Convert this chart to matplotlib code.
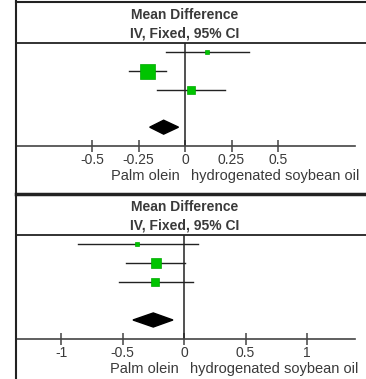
import matplotlib
matplotlib.use("Agg")
import matplotlib.pyplot as plt
from matplotlib.lines import Line2D
import numpy as np

plt.rcParams["font.family"] = ["Liberation Sans", "DejaVu Sans"]

W, H = 366, 379
DPI = 100

# top panel
top_est = [0.12, -0.205, 0.03]
top_lo = [-0.10, -0.30, -0.15]
top_hi = [0.345, -0.10, 0.215]
top_weight = [8, 75, 17]
top_pooled = (-0.19, -0.115, -0.035)
top_ticks = [-0.5, -0.25, 0, 0.25, 0.5]
top_tick_labels = ["-0.5", "-0.25", "0", "0.25", "0.5"]

# bottom panel
bot_est = [-0.38, -0.23, -0.235]
bot_lo = [-0.86, -0.47, -0.53]
bot_hi = [0.11, 0.01, 0.07]
bot_weight = [10, 55, 35]
bot_pooled = (-0.415, -0.25, -0.09)
bot_ticks = [-1, -0.5, 0, 0.5, 1]
bot_tick_labels = ["-1", "-0.5", "0", "0.5", "1"]

title_lines = ["Mean Difference", "IV, Fixed, 95% CI"]
left_label = "Palm olein"
right_label = "hydrogenated soybean oil"

GREEN = "#00c400"
DARK = "#222222"
TEXT = "#3a3a3a"


def fx(px):
    return px / W


def fy(py):
    return 1 - py / H


def hline(fig, y, x0=16, x1=366, lw=1.3):
    fig.add_artist(Line2D([fx(x0), fx(x1)], [fy(y), fy(y)], color=DARK, lw=lw))


def draw_panel(fig, est, lo, hi, weight, pooled, ticks, tick_labels,
               xlim, head_y, axis_y, max_box):
    fig.text(fx(185), fy(head_y - 28), title_lines[0], ha="center", va="center",
             fontsize=10, fontweight="bold", color=TEXT)
    fig.text(fx(185), fy(head_y - 10), title_lines[1], ha="center", va="center",
             fontsize=10, fontweight="bold", color=TEXT)
    hline(fig, head_y)

    ax = fig.add_axes([fx(16), fy(axis_y), fx(355) - fx(16), fy(head_y) - fy(axis_y)])
    ax.patch.set_alpha(0)
    ax.set_xlim(*xlim)
    ax.set_ylim(6.0, 0.53)
    for side in ["top", "left", "right"]:
        ax.spines[side].set_visible(False)
    ax.spines["bottom"].set_color("#444444")
    ax.spines["bottom"].set_linewidth(1.2)
    ax.set_yticks([])
    ax.set_xticks(ticks)
    ax.set_xticklabels(tick_labels)
    ax.tick_params(axis="x", direction="inout", length=8, width=1.1,
                   color="#444444", labelsize=10, labelcolor=TEXT, pad=1)

    ax.axvline(0, color=DARK, lw=1.1)

    rows = np.arange(1, len(est) + 1)
    w = np.array(weight, dtype=float)
    sides = max_box * np.sqrt(w / w.max()) * 0.72
    for r, e, l, h, s in zip(rows, est, lo, hi, sides):
        ax.plot([l, h], [r, r], color=DARK, lw=1.0, zorder=2)
        ax.plot(e, r, marker="s", ms=s, color=GREEN, mec="#00a800", mew=0.5, zorder=3)

    d = len(est) + 2
    plo, pest, phi = pooled
    ax.fill([plo, pest, phi, pest], [d, d - 0.37, d, d + 0.37], color="black", zorder=3)

    ax.annotate(left_label, xy=(0, 0), xycoords=("data", "axes fraction"),
                xytext=(-4, -21.5), textcoords="offset points", ha="right", va="center",
                fontsize=10.5, color=TEXT)
    ax.annotate(right_label, xy=(0, 0), xycoords=("data", "axes fraction"),
                xytext=(4, -21.5), textcoords="offset points", ha="left", va="center",
                fontsize=10.5, color=TEXT)
    return ax


fig = plt.figure(figsize=(W / DPI, H / DPI), dpi=DPI)
fig.patch.set_facecolor("white")

# outer frame
fig.add_artist(Line2D([fx(16), fx(16)], [0, 1], color=DARK, lw=1.5))
hline(fig, 1.5, lw=1.5)
hline(fig, 193.5, lw=2.5)

draw_panel(fig, top_est, top_lo, top_hi, top_weight, top_pooled, top_ticks,
           top_tick_labels, (-0.909, 0.914), 43, 146, 15)
draw_panel(fig, bot_est, bot_lo, bot_hi, bot_weight, bot_pooled, bot_ticks,
           bot_tick_labels, (-1.366, 1.390), 235, 339, 10.5)

fig.savefig("out.png", dpi=DPI)
